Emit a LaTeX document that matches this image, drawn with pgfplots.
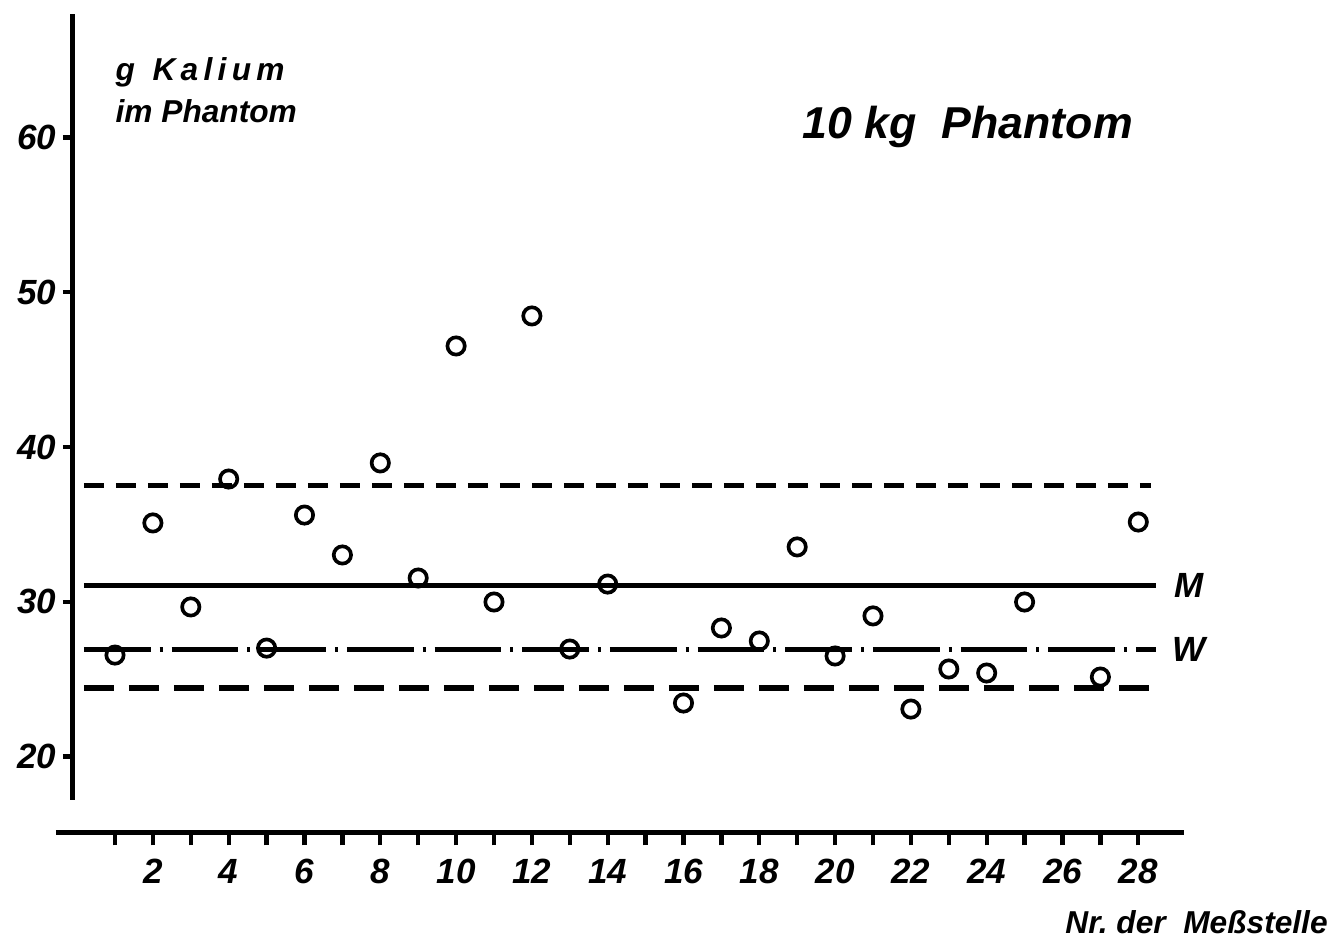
\documentclass[border=0pt]{standalone}
\usepackage{fontspec}
\setmainfont{Liberation Sans}
\usepackage{pgfplots}
\pgfplotsset{compat=1.18}

\newcommand{\lab}[1]{\fontsize{#1}{#1}\selectfont\bfseries\itshape}

\begin{document}
\begin{tikzpicture}[x=1pt,y=1pt]
\path[use as bounding box] (0,0) rectangle (399.9,282.3);

% separate x axis below the plot
\begin{axis}[
  at={(16.77pt,32.7pt)}, anchor=south west,
  x=11.37pt, y=1pt, xmin=-0.56, xmax=29.2, ymin=0, ymax=1,
  axis x line=bottom, axis y line=none,
  axis line style={line width=1.5pt,-},
  xtick={1,...,28},
  xticklabels={,2,,4,,6,,8,,10,,12,,14,,16,,18,,20,,22,,24,,26,,28},
  tick align=outside, major tick length=4pt,
  tick style={line width=1.3pt,black},
  xticklabel style={font=\lab{10.5}, text height=7.5pt, text depth=0pt, yshift=-0.5pt},
]
\addplot[draw=none] coordinates {(1,0.5)};
\end{axis}

% data with y axis
\begin{axis}[
  at={(21.9pt,42.39pt)}, anchor=south west,
  x=11.37pt, y=4.641pt, xmin=-0.108, xmax=29.2, ymin=17.2, ymax=68,
  axis y line=left, axis x line=none,
  axis line style={line width=1.5pt,-},
  ytick={20,30,40,50,60}, yticklabels={20,30,40,50,60},
  tick align=outside, major tick length=3pt,
  tick style={line width=1.3pt,black},
  yticklabel style={font=\lab{10.5}, xshift=1.5pt},
  clip=false,
]
\addplot[line width=1.6pt, dash pattern=on 6pt off 3.6pt] coordinates {(0.18,37.5) (28.33,37.5)};
\addplot[line width=1.5pt] coordinates {(0.18,31.03) (28.47,31.03)};
\addplot[line width=1.5pt, dash pattern=on 20pt off 2.7pt on 0.9pt off 2.7pt] coordinates {(0.18,26.88) (28.47,26.88)};
\addplot[line width=1.6pt, dash pattern=on 9pt off 4.5pt] coordinates {(0.18,24.42) (28.4,24.42)};
\addplot[only marks, mark=o, mark size=2.6pt, mark options={line width=1.1pt, fill=white}]
  coordinates {
    (1,26.55) (2,35.09) (3,29.66) (4,37.93) (5,27.0) (6,35.6) (7,33.02)
    (8,38.97) (9,31.53) (10,46.53) (11,29.98) (12,48.47) (13,26.94)
    (14,31.14) (16,23.45) (17,28.3) (18,27.46) (19,33.54) (20,26.49)
    (21,29.08) (22,23.06) (23,25.65) (24,25.39) (25,29.98) (27,25.13)
    (28,35.15)
  };
\node at (axis cs:29.34,31.03) {\lab{10.5}M};
\node at (axis cs:29.34,26.88) {\lab{10.5}W};
\end{axis}

\node[anchor=base west, inner sep=0] at (34.5,258.3) {\lab{9.5}g\ \ K\,a\,l\,i\,u\,m};
\node[anchor=base west, inner sep=0] at (34.5,245.7) {\lab{9.5}im Phantom};
\node[anchor=base west, inner sep=0] at (240.6,240.9) {\lab{13.4}10 kg\ \ Phantom};
\node[anchor=base east, inner sep=0] at (398.5,2.2) {\lab{9.5}Nr.\ der\ \ Meßstelle};
\end{tikzpicture}
\end{document}
